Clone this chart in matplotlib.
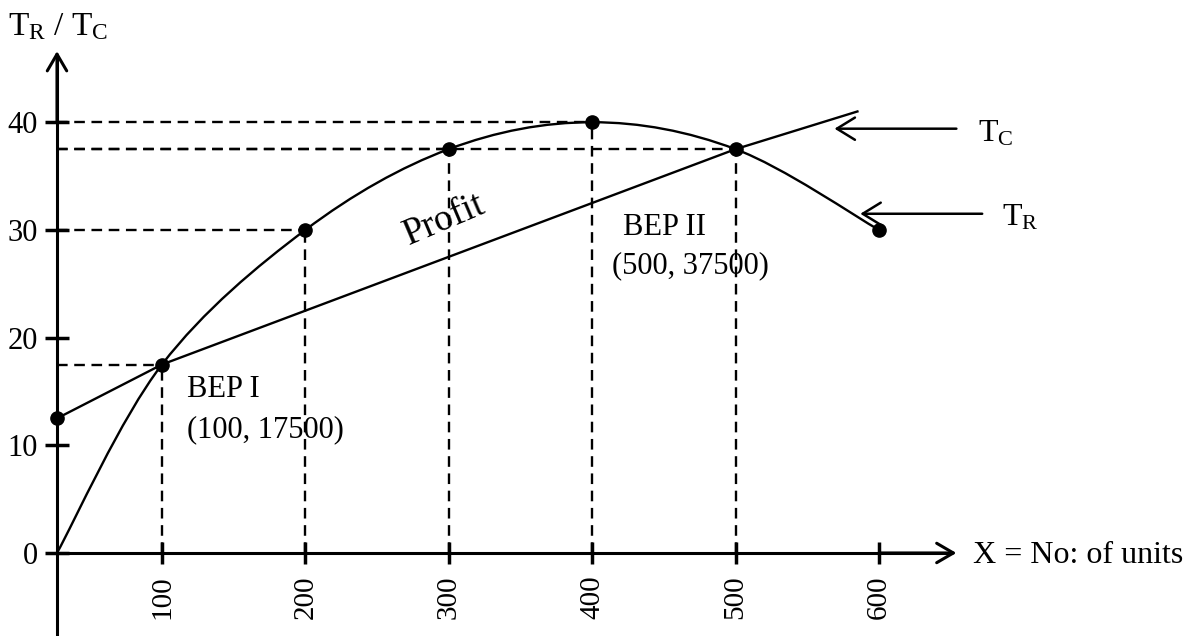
import numpy as np
import matplotlib
matplotlib.use("Agg")
import matplotlib.pyplot as plt
from matplotlib.path import Path
from matplotlib.patches import PathPatch

plt.rcParams['font.family'] = ['Liberation Serif', 'DejaVu Serif']
plt.rcParams['mathtext.fontset'] = 'custom'
plt.rcParams['mathtext.rm'] = 'Liberation Serif'
plt.rcParams['mathtext.it'] = 'Liberation Serif:italic'
plt.rcParams['mathtext.bf'] = 'Liberation Serif:bold'

# ---- data (thousands) ----
units = [0, 100, 200, 300, 400, 500, 600]
revenue = [0, 17.5, 30, 37.5, 40, 37.5, 30]          # T_R
cost_x = [0, 100, 500, 585]
cost_y = [12.5, 17.5, 37.5, 41.0]                     # T_C
x_ticks = [100, 200, 300, 400, 500, 600]
y_ticks = [0, 10, 20, 30, 40]
bep1_label = ["BEP I", "(100, 17500)"]
bep2_label = ["BEP II", "(500, 37500)"]


# hand-drawn axis: first 100 units compressed
def fwd(x):
    x = np.asarray(x, dtype=float)
    return np.where(x < 100, 26.8 + 0.732 * x, x)


def inv(u):
    u = np.asarray(u, dtype=float)
    return np.where(u < 100, (u - 26.8) / 0.732, u)


fig = plt.figure(figsize=(11.97, 6.36), dpi=100)
ax = fig.add_axes([0, 0, 1, 1])
ax.set_xscale('function', functions=(fwd, inv))
ax.set_xlim(-54.3, 821.8)
ax.set_ylim(-7.71, 51.35)

# spines as axes
for s in ['top', 'right']:
    ax.spines[s].set_visible(False)
ax.spines['left'].set_position(('data', 0))
ax.spines['bottom'].set_position(('data', 0))
ax.spines['left'].set_bounds(-7.71, 46.0)
ax.spines['bottom'].set_bounds(0, 650)
for s in ['left', 'bottom']:
    ax.spines[s].set_linewidth(2.2)

ax.set_xticks(x_ticks)
ax.set_xticklabels([str(t) for t in x_ticks])
ax.set_yticks(y_ticks)
ax.set_yticklabels([str(t) for t in y_ticks])
ax.tick_params(axis='y', direction='inout', length=17, width=2.5, pad=5, labelsize=22)
ax.tick_params(axis='x', direction='inout', length=16, width=2.5, pad=8, labelsize=21,
               labelrotation=90)

arrow_head = '->,head_length=0.6,head_width=0.35'
ax.annotate('', xy=(0, 46.6), xytext=(0, 40),
            arrowprops=dict(arrowstyle=arrow_head, lw=2.2, mutation_scale=20,
                            shrinkA=0, shrinkB=0, color='black'))
ax.annotate('', xy=(654, 0), xytext=(600, 0),
            arrowprops=dict(arrowstyle=arrow_head, lw=2.2, mutation_scale=20,
                            shrinkA=0, shrinkB=0, color='black'))

# dashed guides
dash = (0, (4.5, 2.8))
for xi, yi in zip(units[1:6], revenue[1:6]):
    ax.plot([0, xi], [yi, yi], color='black', lw=1.7, linestyle=dash, zorder=2)
    ax.plot([xi, xi], [0, yi], color='black', lw=1.7, linestyle=dash, zorder=2)

# T_R smooth curve (Catmull-Rom through the points, in scale space)
pu = fwd(units)
py = np.array(revenue, dtype=float)
pts = np.column_stack([pu, py])
padded = np.vstack([pts[0], pts, pts[-1]])
verts = [(units[0], revenue[0])]
codes = [Path.MOVETO]
for i in range(len(pts) - 1):
    p0, p1, p2, p3 = padded[i], padded[i + 1], padded[i + 2], padded[i + 3]
    c1 = p1 + (p2 - p0) / 6.0
    c2 = p2 - (p3 - p1) / 6.0
    for c in (c1, c2, p2):
        verts.append((float(inv(c[0])), float(c[1])))
    codes += [Path.CURVE4] * 3
ax.add_patch(PathPatch(Path(verts, codes), fill=False, lw=1.7, ec='black', zorder=3))

# T_C line
ax.plot(cost_x, cost_y, color='black', lw=1.7, zorder=3)

# dots
ax.plot(units[1:], revenue[1:], 'o', color='black', ms=9.5, zorder=4)
ax.plot(cost_x[:1], cost_y[:1], 'o', color='black', ms=9.5, zorder=4)

# pointer arrows
ptr = '->,head_length=0.65,head_width=0.4'
ax.annotate('', xy=(569, 39.4), xytext=(654, 39.4),
            arrowprops=dict(arrowstyle=ptr, lw=1.8, mutation_scale=20,
                            shrinkA=0, shrinkB=0, color='black'))
ax.annotate('', xy=(587, 31.5), xytext=(672, 31.5),
            arrowprops=dict(arrowstyle=ptr, lw=1.8, mutation_scale=20,
                            shrinkA=0, shrinkB=0, color='black'))
ax.text(669, 38.2, r'$\mathrm{T_C}$', fontsize=23, ha='left', va='baseline')
ax.text(686, 30.45, r'$\mathrm{T_R}$', fontsize=23, ha='left', va='baseline')

# labels
ax.text(8 / 1197, 1 - 35 / 636, r'$\mathrm{T_R}$ / $\mathrm{T_C}$', fontsize=24,
        ha='left', va='baseline', transform=ax.transAxes)
ax.text(665.5, -0.95, 'X = No: of units', fontsize=23, ha='left', va='baseline')
ax.text(297, 30.9, 'Profit', fontsize=27, rotation=23, ha='center', va='center',
        rotation_mode='anchor')
ax.text(117.4, 14.48, bep1_label[0], fontsize=22, ha='left', va='baseline')
ax.text(117.4, 10.77, bep1_label[1], fontsize=22, ha='left', va='baseline')
ax.text(421.5, 29.53, bep2_label[0], fontsize=22, ha='left', va='baseline')
ax.text(413.8, 26.0, bep2_label[1], fontsize=22, ha='left', va='baseline')

fig.savefig('out.png', dpi=100)
